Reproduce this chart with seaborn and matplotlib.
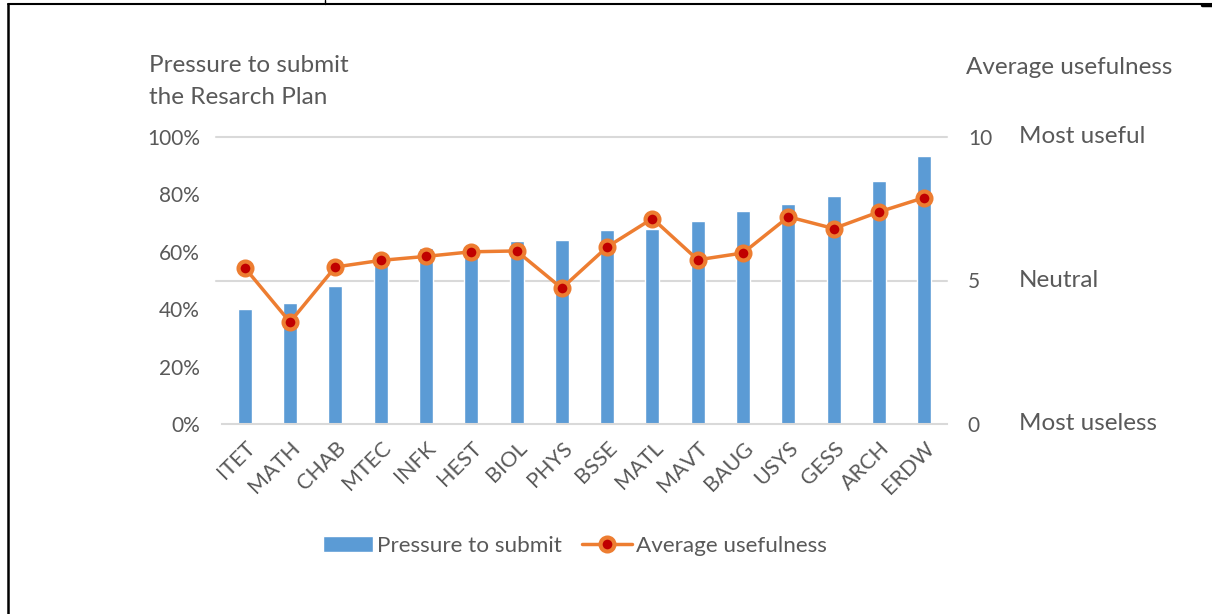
import matplotlib
matplotlib.use('Agg')
import matplotlib.pyplot as plt
import matplotlib.transforms as mtransforms
from matplotlib.lines import Line2D
import pandas as pd
import seaborn as sns

depts = ['ITET', 'MATH', 'CHAB', 'MTEC', 'INFK', 'HEST', 'BIOL', 'PHYS',
         'BSSE', 'MATL', 'MAVT', 'BAUG', 'USYS', 'GESS', 'ARCH', 'ERDW']
pressure = [0.40, 0.423, 0.481, 0.58, 0.613, 0.60, 0.637, 0.641,
            0.676, 0.679, 0.707, 0.743, 0.767, 0.794, 0.847, 0.933]
usefulness = [5.45, 3.55, 5.47, 5.70, 5.84, 6.00, 6.03, 4.73,
              6.17, 7.16, 5.72, 5.96, 7.22, 6.81, 7.39, 7.89]
right_labels = {0: 'Most useless', 5: 'Neutral', 10: 'Most useful'}

df = pd.DataFrame({'dept': depts, 'pressure': pressure, 'useful': usefulness})

sns.set_style('white')
plt.rcParams['font.family'] = ['Lato', 'DejaVu Sans']
grey = '#595959'
blue = '#5B9BD5'
orange = '#ED7D31'

fig = plt.figure(figsize=(12.12, 6.14), dpi=100)
ax = fig.add_axes([222/1212, 1-424/614, 725/1212, 287/614])

sns.barplot(data=df, x='dept', y='pressure', color=blue, width=0.31,
            saturation=1, ax=ax, zorder=2, label='Pressure to submit')
if ax.get_legend() is not None:
    ax.get_legend().remove()
ax.set_ylim(0, 1)
ax.set_xlim(-0.5, len(depts) - 0.5)
ax.set_yticks([0, 0.2, 0.4, 0.6, 0.8, 1.0])
ax.set_yticklabels(['0%', '20%', '40%', '60%', '80%', '100%'])
for yv in [0.5, 1.0]:
    ax.axhline(yv, xmin=-0.008, xmax=1, color='#D9D9D9', lw=1.5, zorder=0, clip_on=False)
for s in ['top', 'left', 'right']:
    ax.spines[s].set_visible(False)
ax.spines['bottom'].set_color('#D9D9D9')
ax.spines['bottom'].set_linewidth(1.5)
ax.set_xlabel('')
ax.set_ylabel('')
ax.tick_params(axis='y', length=0, pad=16, labelsize=15, labelcolor=grey)
ax.tick_params(axis='x', which='major', length=0, pad=10, labelsize=15.5, labelcolor=grey)
ax.set_xticks([i - 0.5 for i in range(len(depts) + 1)], minor=True)
ax.tick_params(axis='x', which='minor', length=6, width=1.5, color='#D9D9D9')
for lab in ax.get_xticklabels():
    lab.set_rotation(45)
    lab.set_ha('right')
    lab.set_rotation_mode('anchor')

ax2 = ax.twinx()
sns.lineplot(data=df, x='dept', y='useful', sort=False, ax=ax2, color=orange,
             lw=2.5, marker='o', markersize=10, markerfacecolor='#C00000',
             markeredgecolor=orange, markeredgewidth=3, label='Average usefulness')
ax2.set_ylim(0, 10)
ax2.set_xlim(-0.5, len(depts) - 0.5)
ax2.set_yticks([0, 5, 10])
ax2.set_ylabel('')
ax2.set_xlabel('')
for s in ax2.spines.values():
    s.set_visible(False)
ax2.tick_params(axis='y', length=0, pad=15, labelsize=15, labelcolor=grey)
ax2.get_legend().remove()

tr = mtransforms.blended_transform_factory(fig.transFigure, ax2.transData)
for v, txt in right_labels.items():
    ax2.text(1019/1212, v, txt, transform=tr, fontsize=17.5, color=grey, va='center', ha='left')

fig.text(149/1212, 1-65/614, 'Pressure to submit', fontsize=17.5, color=grey,
         va='center', ha='left')
fig.text(149/1212, 1-97/614, 'the Resarch Plan', fontsize=17.5, color=grey,
         va='center', ha='left')
fig.text(966/1212, 1-67/614, 'Average usefulness', fontsize=17.5, color=grey,
         va='center', ha='left')

h1, l1 = ax.get_legend_handles_labels()
h2, l2 = ax2.get_legend_handles_labels()
fig.legend(h1 + h2, l1 + l2, loc='center', bbox_to_anchor=(575/1212, 1-546/614),
           ncol=2, frameon=False, fontsize=16.2, labelcolor=grey,
           handlelength=2.2, handleheight=0.7, handletextpad=0.2, columnspacing=0.9)

# page border fragments
fig.add_artist(Line2D([8/1212, 1], [1-4/614, 1-4/614], color='black', lw=1.5, transform=fig.transFigure))
fig.add_artist(Line2D([8/1212, 8/1212], [0, 1-4/614], color='black', lw=1.8, transform=fig.transFigure))
fig.add_artist(Line2D([325/1212, 325/1212], [1-4/614, 1], color='black', lw=1, transform=fig.transFigure))
fig.add_artist(Line2D([1202/1212, 1], [1-5/614, 1-5/614], color='black', lw=2.5, transform=fig.transFigure))

fig.savefig('out.png', dpi=100)
